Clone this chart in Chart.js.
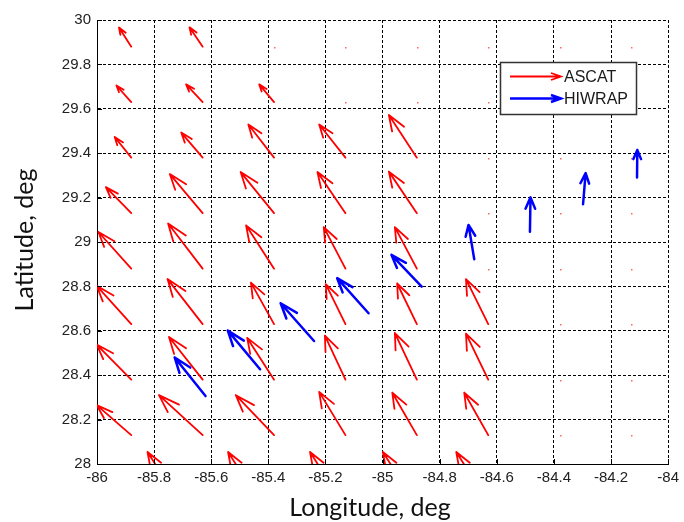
<!DOCTYPE html>
<html>
<head>
<meta charset="utf-8">
<script src="https://cdn.jsdelivr.net/npm/chart.js"></script>
<style>
  body { margin: 0; background: #fff; }
</style>
</head>
<body>
<canvas id="myChart" width="684" height="522"></canvas>
<script>
// tick labels
const xTicks = [-86, -85.8, -85.6, -85.4, -85.2, -85, -84.8, -84.6, -84.4, -84.2, -84];
const yTicks = [28, 28.2, 28.4, 28.6, 28.8, 29, 29.2, 29.4, 29.6, 29.8, 30];

// ASCAT grid (tail points), one row per latitude
const gridLons = [-85.88, -85.63, -85.38, -85.13, -84.88, -84.63, -84.38, -84.13];
const gridLats = [29.88, 29.63, 29.38, 29.13, 28.88, 28.63, 28.38, 28.13];
const ascatU = [
  [-0.043, -0.046, 0, 0, 0, 0, 0, 0],
  [-0.052, -0.058, -0.052, 0, 0, 0, 0, 0],
  [-0.058, -0.075, -0.090, -0.092, -0.098, 0, 0, 0],
  [-0.089, -0.115, -0.117, -0.098, -0.098, 0, 0, 0],
  [-0.115, -0.121, -0.098, -0.076, -0.077, 0, 0, 0],
  [-0.121, -0.123, -0.081, -0.069, -0.069, -0.078, 0, 0],
  [-0.121, -0.118, -0.094, -0.072, -0.077, -0.078, 0, 0],
  [-0.121, -0.153, -0.134, -0.092, -0.086, -0.084, 0, 0]
];
const ascatV = [
  [0.086, 0.087, 0, 0, 0, 0, 0, 0],
  [0.075, 0.080, 0.080, 0, 0, 0, 0, 0],
  [0.093, 0.113, 0.149, 0.149, 0.192, 0, 0, 0],
  [0.117, 0.176, 0.185, 0.185, 0.187, 0, 0, 0],
  [0.165, 0.203, 0.195, 0.187, 0.187, 0, 0, 0],
  [0.173, 0.203, 0.187, 0.180, 0.183, 0.203, 0, 0],
  [0.158, 0.192, 0.188, 0.198, 0.210, 0.207, 0, 0],
  [0.135, 0.180, 0.180, 0.195, 0.191, 0.191, 0, 0]
];
// ASCAT row just below the axis, only the heads show
const edgeLons = [-85.737, -85.455, -85.168, -84.913, -84.656];
const edgeLat = 27.88;
const edgeU = [-0.086, -0.086, -0.086, -0.086, -0.086];
const edgeV = [0.174, 0.174, 0.174, 0.174, 0.174];

// HIWRAP vectors
const hiwrapLon = [-85.620, -85.429, -85.240, -85.049, -84.863, -84.679, -84.484, -84.298, -84.109];
const hiwrapLat = [28.306, 28.427, 28.554, 28.679, 28.799, 28.922, 29.046, 29.170, 29.291];
const hiwrapU = [-0.108, -0.113, -0.117, -0.110, -0.106, -0.020, 0.002, 0.009, 0.001];
const hiwrapV = [0.174, 0.174, 0.170, 0.158, 0.143, 0.155, 0.155, 0.140, 0.123];

// build point lists for the datasets
const ascatPts = [];
gridLats.forEach((lat, r) => {
  gridLons.forEach((lon, c) => {
    ascatPts.push({x: lon, y: lat, u: ascatU[r][c], v: ascatV[r][c]});
  });
});
edgeLons.forEach((lon, i) => {
  ascatPts.push({x: lon, y: edgeLat, u: edgeU[i], v: edgeV[i]});
});
const hiwrapPts = hiwrapLon.map((lon, i) => ({x: lon, y: hiwrapLat[i], u: hiwrapU[i], v: hiwrapV[i]}));

const tickFont = {family: "'Liberation Sans', Arial, sans-serif", size: 15};
const titleFont = "25px Lato, 'Open Sans', sans-serif";

// draw a matlab style quiver arrow (head computed in data units)
function drawArrow(ctx, xs, ys, x0, y0, u, v) {
  const a = 0.33, b = 0.33;
  const hx = x0 + u, hy = y0 + v;
  const p = (px, py) => [xs.getPixelForValue(px), ys.getPixelForValue(py)];
  const t = p(x0, y0), h = p(hx, hy);
  const b1 = p(hx - a * (u + b * v), hy - a * (v - b * u));
  const b2 = p(hx - a * (u - b * v), hy - a * (v + b * u));
  ctx.beginPath();
  ctx.moveTo(t[0], t[1]);
  ctx.lineTo(h[0], h[1]);
  ctx.moveTo(b1[0], b1[1]);
  ctx.lineTo(h[0], h[1]);
  ctx.lineTo(b2[0], b2[1]);
  ctx.stroke();
}

const quiverPlugin = {
  id: 'quiver',
  afterDatasetsDraw(chart) {
    const {ctx, chartArea: area, scales: {x, y}} = chart;
    ctx.save();
    ctx.beginPath();
    ctx.rect(area.left, area.top, area.right - area.left, area.bottom - area.top);
    ctx.clip();
    ctx.lineCap = 'round';
    ctx.lineJoin = 'round';
    chart.data.datasets.forEach(ds => {
      ctx.strokeStyle = ds.borderColor;
      ctx.lineWidth = ds.borderWidth;
      ds.data.forEach(p => {
        if (p.u === 0 && p.v === 0) {
          ctx.fillStyle = 'rgba(255,0,0,0.6)';
          ctx.fillRect(Math.round(x.getPixelForValue(p.x)), Math.round(y.getPixelForValue(p.y)), 1.5, 1.5);
          return;
        }
        drawArrow(ctx, x, y, p.x, p.y, p.u, p.v);
      });
    });
    ctx.restore();
  },
  afterDraw(chart) {
    const {ctx, chartArea: area, scales: {x, y}} = chart;
    ctx.save();
    // inward tick marks
    ctx.strokeStyle = '#000';
    ctx.lineWidth = 1;
    ctx.beginPath();
    xTicks.forEach(v => {
      const px = Math.round(x.getPixelForValue(v)) + 0.5;
      ctx.moveTo(px, area.bottom);
      ctx.lineTo(px, area.bottom - 5);
    });
    yTicks.forEach(v => {
      const py = Math.round(y.getPixelForValue(v)) + 0.5;
      ctx.moveTo(area.left, py);
      ctx.lineTo(area.left + 5, py);
    });
    ctx.stroke();

    // legend box
    const lx = 500.5, ly = 62.5, lw = 136, lh = 52;
    ctx.fillStyle = '#fff';
    ctx.fillRect(lx, ly, lw, lh);
    ctx.strokeStyle = '#333';
    ctx.lineWidth = 1.5;
    ctx.strokeRect(lx, ly, lw, lh);
    chart.data.datasets.forEach((ds, i) => {
      const yy = 76.5 + i * 22;
      ctx.strokeStyle = ds.borderColor;
      ctx.lineWidth = ds.borderWidth;
      ctx.beginPath();
      ctx.moveTo(510, yy);
      ctx.lineTo(561, yy);
      ctx.moveTo(551, yy - 3.5);
      ctx.lineTo(561, yy);
      ctx.lineTo(551, yy + 3.5);
      ctx.stroke();
      ctx.fillStyle = '#1a1a1a';
      ctx.font = "16px 'Liberation Sans', Arial, sans-serif";
      ctx.textBaseline = 'middle';
      ctx.textAlign = 'left';
      ctx.fillText(ds.label, 564, yy + 1);
    });

    // axis titles
    ctx.fillStyle = '#111';
    ctx.font = titleFont;
    ctx.textAlign = 'center';
    ctx.textBaseline = 'middle';
    ctx.fillText('Longitude, deg', 370, 508);
    ctx.translate(25, 240);
    ctx.rotate(-Math.PI / 2);
    ctx.fillText('Latitude, deg', 0, 0);
    ctx.restore();
  }
};

const ctx = document.getElementById('myChart');
const myChart = new Chart(ctx, {
  type: 'scatter',
  data: {
    datasets: [
      {
        label: 'ASCAT',
        data: ascatPts,
        borderColor: '#ff0000',
        borderWidth: 1.8,
        pointRadius: 0,
        showLine: false
      },
      {
        label: 'HIWRAP',
        data: hiwrapPts,
        borderColor: '#0000ff',
        borderWidth: 2.5,
        pointRadius: 0,
        showLine: false
      }
    ]
  },
  options: {
    responsive: false,
    animation: false,
    devicePixelRatio: 1,
    layout: {padding: {top: 20, right: 7, left: 0, bottom: 0}},
    plugins: {
      legend: {display: false},
      tooltip: {enabled: false}
    },
    scales: {
      x: {
        type: 'linear',
        min: -86,
        max: -84,
        afterBuildTicks: s => { s.ticks = xTicks.map(v => ({value: v})); },
        afterFit: s => { s.height = 58; },
        ticks: {
          callback: v => String(Number(v.toFixed(1))),
          font: tickFont,
          color: '#222',
          padding: 5,
          maxRotation: 0,
          autoSkip: false
        },
        grid: {color: '#000', lineWidth: 1, drawTicks: false},
        border: {color: '#000', width: 1, dash: [3, 2]}
      },
      y: {
        type: 'linear',
        min: 28,
        max: 30,
        afterBuildTicks: s => { s.ticks = yTicks.map(v => ({value: v})); },
        afterFit: s => { s.width = 97; },
        ticks: {
          callback: v => String(Number(v.toFixed(1))),
          font: tickFont,
          color: '#222',
          padding: 6,
          autoSkip: false
        },
        grid: {color: '#000', lineWidth: 1, drawTicks: false},
        border: {color: '#000', width: 1, dash: [3, 2]}
      }
    }
  },
  plugins: [quiverPlugin]
});
</script>
</body>
</html>
